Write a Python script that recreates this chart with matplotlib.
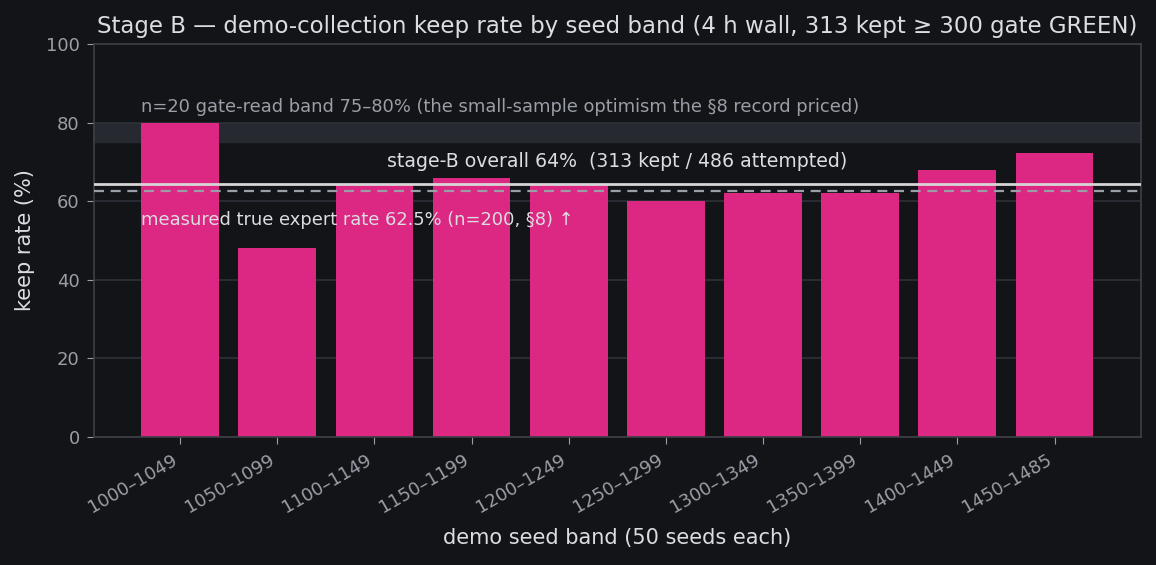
import numpy as np
import matplotlib
matplotlib.use("Agg")
import matplotlib.pyplot as plt

# seed bands and keep rates
bands = ["1000–1049", "1050–1099", "1100–1149", "1150–1199", "1200–1249",
         "1250–1299", "1300–1349", "1350–1399", "1400–1449", "1450–1485"]
keep_rate = [80, 48, 64, 66, 64, 60, 62, 62, 68, 72.2]
overall = 313 / 486 * 100
true_rate = 62.5
gate_band = (75, 80)

BG = "#131418"
FG = "#dcdde0"
DIM = "#9a9ea6"
EDGE = "#3c4046"

plt.rcParams['font.family'] = ['DejaVu Sans']
fig, ax = plt.subplots(figsize=(11.56, 5.65), dpi=100)
fig.patch.set_facecolor(BG)
ax.set_facecolor(BG)

x = np.arange(len(bands))
ax.axhspan(gate_band[0], gate_band[1], color="#262a30", zorder=0)
ax.bar(x, keep_rate, width=0.8, color="#dc2882", zorder=2)
ax.axhline(overall, color="#d6d6d6", lw=2, zorder=3)
ax.axhline(true_rate, color=DIM, lw=1.6, ls=(0, (4.5, 3)), zorder=3)

ax.text(-0.4, 81.6, "n=20 gate-read band 75–80% (the small-sample optimism the §8 record priced)",
        color=DIM, fontsize=12.85, va="bottom", ha="left", zorder=4)
ax.text(4.5, 70.2, "stage-B overall 64%  (313 kept / 486 attempted)",
        color=FG, fontsize=13.6, va="center", ha="center", zorder=4)
ax.text(-0.4, 55.2, "measured true expert rate 62.5% (n=200, §8) ↑",
        color=FG, fontsize=12.85, va="center", ha="left", zorder=4)

ax.set_ylim(0, 100)
ax.set_yticks([0, 20, 40, 60, 80, 100])
ax.yaxis.grid(True, color="#2e3238", lw=1.2, zorder=1)
ax.set_axisbelow(True)
ax.set_xticks(x)
ax.set_xticklabels(bands, rotation=30, ha="right")

ax.tick_params(colors=DIM, labelsize=13, length=5, pad=5)
for s in ax.spines.values():
    s.set_color(EDGE)
    s.set_linewidth(1.2)

ax.set_title("Stage B — demo-collection keep rate by seed band (4 h wall, 313 kept ≥ 300 gate GREEN)",
             color=FG, fontsize=16.5, pad=8)
ax.set_xlabel("demo seed band (50 seeds each)", color=FG, fontsize=15, labelpad=8)
ax.set_ylabel("keep rate (%)", color=FG, fontsize=15, labelpad=8)

plt.subplots_adjust(left=0.081, right=0.987, top=0.922, bottom=0.227)
plt.savefig("out.png", facecolor=BG)
